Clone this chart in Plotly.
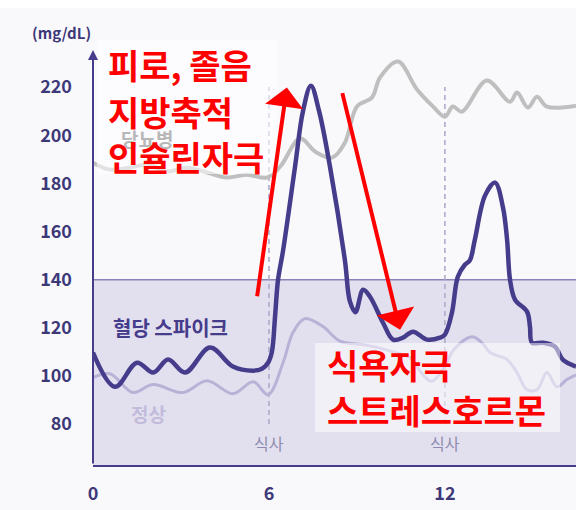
import plotly.graph_objects as go

# 시간(h) / 혈당(mg/dL)
hours_spike = [0.00, 0.75, 1.50, 2.05, 2.56, 3.14, 3.99, 4.77, 5.46, 5.76, 5.97, 6.10, 6.21, 6.31,
               6.48, 6.89, 7.16, 7.43, 7.71, 8.08, 8.59, 8.76, 8.95, 9.21, 9.44, 9.89, 10.23, 10.57,
               10.91, 11.39, 11.83, 12.00, 12.24, 12.44, 12.68, 12.85, 13.02, 13.37, 13.71, 13.98,
               14.12, 14.22, 14.39, 14.80, 14.90, 14.97, 15.34, 15.75, 16.02, 16.47]
glucose_spike = [109.7, 95.5, 105.5, 101.4, 106.8, 101.4, 111.8, 103.9, 102.2, 103.0, 105.5, 110.0, 125.0, 140.0,
                 152.0, 187.0, 210.0, 220.6, 210.0, 187.0, 148.0, 131.0, 126.5, 135.8, 133.0, 122.1, 115.1, 115.9,
                 118.4, 115.1, 115.9, 117.2, 126.3, 141.2, 146.2, 148.0, 156.6, 175.0, 180.3, 170.0,
                 156.6, 140.0, 131.7, 126.7, 120.5, 113.8, 113.8, 112.2, 106.8, 103.9]

hours_normal = [0.00, 0.58, 1.36, 2.05, 3.07, 3.89, 4.77, 5.46, 5.97, 6.48, 6.82, 7.23, 7.84, 8.42,
                9.21, 10.09, 10.91, 11.15, 11.55, 12.00, 12.30, 12.92, 13.26, 13.54, 14.12, 14.46,
                14.80, 15.14, 15.48, 15.82, 16.16, 16.47]
glucose_normal = [99.3, 100.9, 93.1, 96.4, 93.1, 98.0, 92.6, 97.6, 92.2, 105.5, 118.0, 123.8, 120.5, 114.5,
                  113.0, 110.5, 106.8, 102.0, 97.8, 104.0, 110.9, 116.3, 113.8, 109.7, 106.8, 101.4,
                  94.3, 94.3, 101.4, 95.5, 98.5, 100.5]

hours_diabetes = [0.00, 0.58, 1.26, 1.88, 2.52, 3.20, 3.89, 4.57, 5.25, 5.93, 6.38, 7.06, 7.60, 8.15,
                  8.59, 9.00, 9.51, 9.79, 10.40, 11.05, 11.59, 12.00, 12.27, 12.58, 13.43, 14.22,
                  14.46, 14.83, 15.14, 15.48, 16.47]
glucose_diabetes = [188.6, 185.7, 186.5, 187.8, 184.9, 186.5, 184.5, 182.4, 183.6, 182.4, 186.9, 198.6, 193.0, 190.7,
                    196.9, 211.9, 215.6, 224.0, 230.6, 219.0, 212.0, 207.7, 211.9, 209.8, 222.7, 213.9,
                    217.7, 211.5, 216.0, 211.9, 212.3]

y_ticks = [80, 100, 120, 140, 160, 180, 200, 220]
x_ticks = [0, 6, 12]
meal_hours = [6, 12]
limit = 140

X_MAX = 16.47
Y_MIN, Y_MAX = 63, 235.4
NAVY = "#463c8c"
TICK = "#3d3878"
RED = "#ff0000"
KR = "Noto Sans CJK KR"

fig = go.Figure()
fig.add_trace(go.Scatter(x=hours_diabetes, y=glucose_diabetes, mode="lines", line_shape="spline",
                         line={"color": "#bfbfbf", "width": 4}, hoverinfo="skip"))
fig.add_trace(go.Scatter(x=hours_normal, y=glucose_normal, mode="lines", line_shape="spline",
                         line={"color": "#bab1d7", "width": 3}, hoverinfo="skip"))
fig.add_trace(go.Scatter(x=hours_spike, y=glucose_spike, mode="lines", line_shape="spline",
                         line={"color": NAVY, "width": 4.5}, hoverinfo="skip"))

shapes = [
    # 정상 범위 밴드
    {"type": "rect", "xref": "paper", "x0": 0, "x1": 1, "yref": "y", "y0": Y_MIN, "y1": limit,
     "fillcolor": "#e2e0ee", "line": {"width": 0}, "layer": "below"},
    {"type": "line", "xref": "paper", "x0": 0, "x1": 1, "yref": "y", "y0": limit, "y1": limit,
     "line": {"color": "#8a83ba", "width": 1.5}, "layer": "below"},
    # 상단 흰 띠
    {"type": "rect", "xref": "paper", "x0": -0.2, "x1": 1, "yref": "paper", "y0": 1.101, "y1": 1.13,
     "fillcolor": "white", "line": {"width": 0}, "layer": "below"},
    # 텍스트 박스
    {"type": "rect", "xref": "paper", "x0": 0.008, "x1": 0.381, "yref": "paper", "y0": 0.701, "y1": 1.024,
     "fillcolor": "rgba(255,255,255,0.55)", "line": {"width": 0}, "layer": "above"},
    {"type": "rect", "xref": "paper", "x0": 0.4596, "x1": 0.967, "yref": "paper", "y0": 0.0795, "y1": 0.294,
     "fillcolor": "rgba(255,255,255,0.5)", "line": {"width": 0}, "layer": "above"},
]
for h in meal_hours:
    shapes.append({"type": "line", "xref": "x", "x0": h, "x1": h, "yref": "y", "y0": 80, "y1": 220,
                   "line": {"color": "#aaa6c9", "width": 1.5, "dash": "5px,4px"}, "layer": "below"})

annotations = [
    # 세로축 화살표
    {"x": 0, "y": Y_MAX, "ax": 0, "ay": Y_MIN, "xref": "x", "yref": "y", "axref": "x", "ayref": "y",
     "text": "", "showarrow": True, "arrowhead": 2, "arrowsize": 1, "arrowwidth": 2, "arrowcolor": NAVY},
    # 빨간 화살표
    {"x": 6.61, "y": 219.8, "ax": 5.59, "ay": 132.5, "xref": "x", "yref": "y", "axref": "x", "ayref": "y",
     "text": "", "showarrow": True, "arrowhead": 1, "arrowsize": 1.6, "arrowwidth": 4, "arrowcolor": RED},
    {"x": 10.47, "y": 119.2, "ax": 8.49, "ay": 218.1, "xref": "x", "yref": "y", "axref": "x", "ayref": "y",
     "text": "", "showarrow": True, "arrowhead": 1, "arrowsize": 1.6, "arrowwidth": 4, "arrowcolor": RED},
    {"x": 0, "y": 1.043, "xref": "paper", "yref": "paper", "xanchor": "right", "yanchor": "middle",
     "text": "(mg/dL)", "showarrow": False, "font": {"family": KR, "size": 15, "color": TICK, "weight": "bold"}},
    {"x": 1.84, "y": 198.6, "xref": "x", "yref": "y", "text": "당뇨병", "showarrow": False,
     "font": {"family": KR, "size": 19, "color": "#b8b8b8", "weight": "bold"}},
    {"x": 0.62, "y": 120, "xref": "x", "yref": "y", "xanchor": "left", "text": "혈당 스파이크", "showarrow": False,
     "font": {"family": KR, "size": 20, "color": NAVY, "weight": "bold"}},
    {"x": 1.22, "y": 84.6, "xref": "x", "yref": "y", "xanchor": "left", "text": "정상", "showarrow": False,
     "font": {"family": KR, "size": 19, "color": "#c3bbdc", "weight": "bold"}},
]
for h in meal_hours:
    annotations.append({"x": h, "y": 72.3, "xref": "x", "yref": "y", "text": "식사", "showarrow": False,
                        "font": {"family": KR, "size": 16, "color": "#8f8bb0"}})

red_lines = [("피로, 졸음", 0.45, 229.3), ("지방축적", 0.45, 209.8), ("인슐린자극", 0.45, 191.1),
             ("식욕자극", 7.92, 104.7), ("스트레스호르몬", 7.92, 86.0)]
for text, x, y in red_lines:
    annotations.append({"x": x, "y": y, "xref": "x", "yref": "y", "xanchor": "left", "yanchor": "middle",
                        "text": text, "showarrow": False,
                        "font": {"family": KR, "size": 34, "color": RED, "weight": "bold"}})

fig.update_layout(
    width=576,
    height=510,
    margin={"l": 93, "r": 0, "t": 50, "b": 45},
    paper_bgcolor="#f9f9fc",
    plot_bgcolor="#f9f9fc",
    showlegend=False,
    shapes=shapes,
    annotations=annotations,
)
fig.update_xaxes(range=[0, X_MAX], tickvals=x_ticks, showgrid=False, zeroline=False,
                 showline=True, linecolor=NAVY, linewidth=2, ticks="", ticklabelstandoff=11,
                 tickfont={"family": KR, "size": 18, "color": TICK, "weight": "bold"})
fig.update_yaxes(range=[Y_MIN, Y_MAX], tickvals=y_ticks, showgrid=False, zeroline=False,
                 showline=False, ticks="", ticklabelstandoff=20,
                 tickfont={"family": KR, "size": 18, "color": TICK, "weight": "bold"})

fig.write_html("out.html", config={"displayModeBar": False},
               post_script="document.body.style.margin = '0';")
